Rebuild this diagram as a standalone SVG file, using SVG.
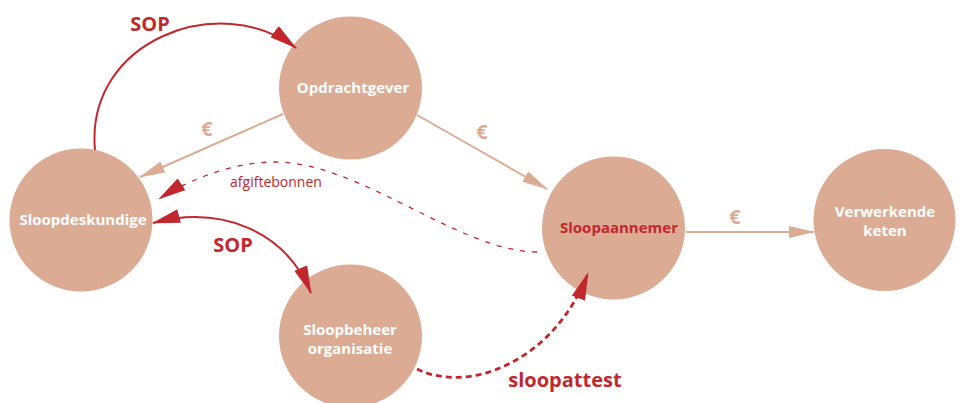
<svg xmlns="http://www.w3.org/2000/svg" width="963" height="403" viewBox="0 0 963 403">
<style>
.node{fill:#dbab93}
.nl{font-family:"Open Sans",Lato,sans-serif;font-weight:bold;font-size:15px;fill:#fff;text-anchor:middle}
.red{fill:#c1272d}
.lbl{font-family:"Open Sans",Lato,sans-serif;font-weight:bold;text-anchor:middle}
.eur{font-family:"Open Sans",Lato,sans-serif;font-weight:bold;text-anchor:middle;font-size:20px;fill:#dcab93}
.tan{stroke:#dcab93;stroke-width:2;fill:none}
.rl{stroke:#c1272d;stroke-width:2;fill:none}
.rd{stroke:#c1272d;stroke-width:1.3;fill:none;stroke-dasharray:5 7}
.rdd{stroke:#c1272d;stroke-width:2.8;fill:none;stroke-dasharray:6 4}
</style>
<defs>
<marker id="at" viewBox="0 0 26 12" refX="25" refY="6" markerWidth="26" markerHeight="12" markerUnits="userSpaceOnUse" orient="auto"><path d="M0,0 L26,6 L0,12 Z" fill="#dcab93"/></marker>
<marker id="ar" viewBox="0 0 28 14" refX="27" refY="7" markerWidth="28" markerHeight="14" markerUnits="userSpaceOnUse" orient="auto"><path d="M0,0 L28,7 L0,14 Z" fill="#c1272d"/></marker>
<marker id="ars" viewBox="0 0 28 14" refX="1" refY="7" markerWidth="28" markerHeight="14" markerUnits="userSpaceOnUse" orient="auto"><path d="M28,0 L0,7 L28,14 Z" fill="#c1272d"/></marker>
</defs>
<g id="n-opdrachtgever"><circle class="node" cx="350.5" cy="88" r="71.5"/><text class="nl" x="353" y="93">Opdrachtgever</text></g>
<g id="n-sloopdeskundige"><circle class="node" cx="81" cy="220" r="71.5"/><text class="nl" x="83" y="225">Sloopdeskundige</text></g>
<g id="n-sloopaannemer"><circle class="node" cx="613.5" cy="228" r="71.5"/><text class="nl red" x="619" y="233">Sloopaannemer</text></g>
<g id="n-verwerkende"><circle class="node" cx="884.5" cy="220" r="71"/><text class="nl" x="885" y="217">Verwerkende</text><text class="nl" x="885" y="236">keten</text></g>
<g id="n-sloopbeheer"><circle class="node" cx="350.5" cy="336" r="71.5"/><text class="nl" x="350" y="335">Sloopbeheer</text><text class="nl" x="350" y="354">organisatie</text></g>
<g id="connectors">
<path class="rl" d="M95,150 C85,40 220,-10 296,48" marker-end="url(#ar)"/>
<path class="tan" d="M283,114 L140,177" marker-end="url(#at)"/>
<path class="tan" d="M417,115 L547,189" marker-end="url(#at)"/>
<path class="tan" d="M686,232 L814,232" marker-end="url(#at)"/>
<path class="rd" d="M537,252 C460,252 360,162 275,162 C230,162 185,182 159,199" marker-end="url(#ar)"/>
<path class="rl" d="M153,223 C220,205 285,230 311,293" marker-start="url(#ars)" marker-end="url(#ar)"/>
<path class="rdd" d="M417,369 C470,395 555,360 588,273" marker-end="url(#ar)"/>
</g>
<g id="labels">
<text class="lbl red" x="150" y="31" font-size="20">SOP</text>
<text class="eur" x="207" y="136">€</text>
<text class="eur" x="482" y="139">€</text>
<text class="eur" x="735" y="224">€</text>
<text x="276" y="187" font-family="'Open Sans',Lato,sans-serif" font-size="14" fill="#c1272d" text-anchor="middle">afgiftebonnen</text>
<text class="lbl red" x="233" y="252" font-size="20">SOP</text>
<text class="lbl red" x="565" y="387" font-size="20">sloopattest</text>
</g>
</svg>
